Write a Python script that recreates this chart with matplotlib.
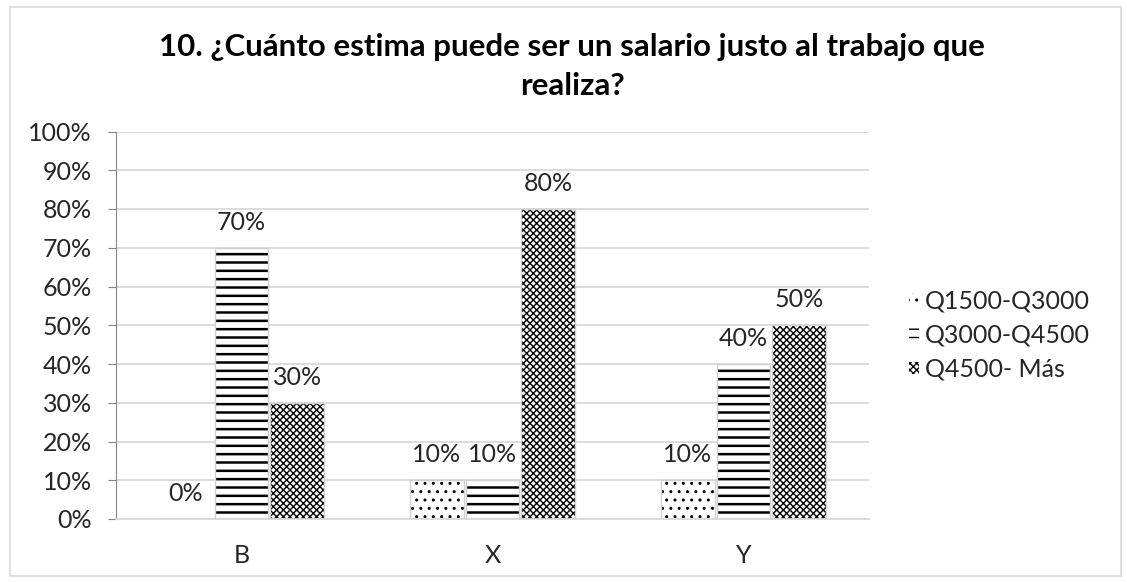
import numpy as np
import matplotlib.pyplot as plt
from matplotlib.patches import Rectangle

plt.rcParams['font.family'] = ['Lato', 'DejaVu Sans']

# Data
categories = ['B', 'X', 'Y']
series = ['Q1500-Q3000', 'Q3000-Q4500', 'Q4500- Más']
q1500 = [0, 10, 10]
q3000 = [70, 10, 40]
q4500 = [30, 80, 50]
values = [q1500, q3000, q4500]
hatches = ['..', '--', 'xxxxx']
hatch_lw = [1.0, 1.8, 1.0]

W, H = 1127, 582
fig = plt.figure(figsize=(W / 100, H / 100), dpi=100)
# chart border
fig.patches.append(Rectangle((9.5 / W, 6 / H), 1111 / W, 569 / H, transform=fig.transFigure,
                             fill=False, edgecolor='#d9d9d9', linewidth=1.2))
ax = fig.add_axes([116 / W, 1 - 519 / H, (869 - 116) / W, (519 - 131.5) / H])

txt_color = '#262626'
x = np.arange(len(categories))
step = 0.223
width = 0.215
for i, (vals, name, h, lw) in enumerate(zip(values, series, hatches, hatch_lw)):
    plt.rcParams['hatch.linewidth'] = lw
    pos = x + (i - 1) * step
    bars = ax.bar(pos, vals, width, color='white', edgecolor='black', hatch=h,
                  linewidth=0, label=name, zorder=2)
    for b in bars:
        if hasattr(b, 'set_hatch_linewidth'):
            b.set_hatch_linewidth(lw)
    ax.bar(pos, vals, width, fill=False, edgecolor='#d0d0d0', linewidth=1, zorder=3)
    for p, v in zip(pos, vals):
        ax.annotate(f'{v}%', (p, v), xytext=(0, 13), textcoords='offset points',
                    ha='center', va='baseline', fontsize=18, color=txt_color)

ax.set_xlim(-0.5, 2.5)
ax.set_ylim(0, 100)
ax.set_yticks(np.arange(0, 101, 10))
ax.set_yticklabels([f'{t}%' for t in range(0, 101, 10)], fontsize=18, color=txt_color)
ax.set_xticks(x)
ax.set_xticklabels(categories, fontsize=18, color=txt_color)
ax.tick_params(axis='x', length=0, pad=18)
ax.tick_params(axis='y', length=5.5, color='#868686', pad=12)
ax.yaxis.grid(True, color='#d9d9d9', linewidth=1.3, zorder=0)
ax.set_axisbelow(True)
for s in ['top', 'right']:
    ax.spines[s].set_visible(False)
ax.spines['left'].set_color('#868686')
ax.spines['bottom'].set_color('#d9d9d9')
ax.spines['bottom'].set_linewidth(1.3)

# title, two lines
fig.text(572 / W, 1 - 56 / H, '10. ¿Cuánto estima puede ser un salario justo al trabajo que',
         ha='center', va='baseline', fontsize=22.5, fontweight='bold')
fig.text(572 / W, 1 - 95 / H, 'realiza?', ha='center', va='baseline', fontsize=22.5, fontweight='bold')

handles, labels = ax.get_legend_handles_labels()
fig.legend(handles, labels, loc='center left', bbox_to_anchor=(909 / W, 1 - 335 / H), frameon=False,
           fontsize=18, handlelength=0.4, handleheight=0.4, handletextpad=0.25, labelspacing=0.45,
           labelcolor=txt_color, borderpad=0, borderaxespad=0)

plt.savefig('out.png', dpi=100)
